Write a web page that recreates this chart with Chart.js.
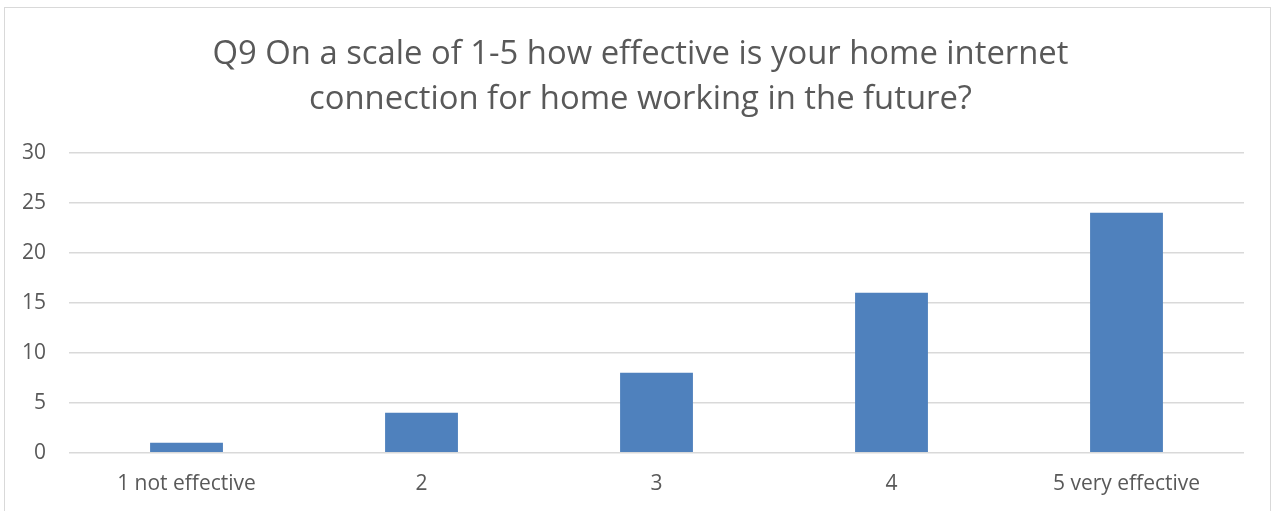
<!DOCTYPE html>
<html>
<head>
<meta charset="utf-8">
<script src="https://cdn.jsdelivr.net/npm/chart.js@4/dist/chart.umd.min.js"></script>
<style>
  body { margin: 0; background: #fff; overflow: hidden; }
  #box { position: absolute; left: 4px; top: 7px; width: 1265px; height: 530px; border: 1px solid #d9d9d9; background: #fff; }
  #wrap { position: absolute; left: 0; top: 0; width: 1265px; height: 500px; }
</style>
</head>
<body>
<div id="box"><div id="wrap"><canvas id="chart"></canvas></div></div>
<script>
// dados do grafico
var categorias = ["1 not effective", "2", "3", "4", "5 very effective"];
var valores = [1, 4, 8, 16, 24];
var tituloLinhas = ["Q9 On a scale of 1-5 how effective is your home internet", "connection for home working in the future?"];
var escalaY = { min: 0, max: 30, passo: 5 };

var fonte = "'Open Sans', 'Noto Sans', sans-serif";

// centraliza o titulo na caixa toda (o eixo y desloca o layout)
var centraTitulo = {
	id: 'centraTitulo',
	afterLayout: function(chart) {
		var t = chart.titleBlock;
		if (!t) return;
		var meio = chart.width / 2 + 3;
		var larg = t.right - t.left;
		t.left = meio - larg / 2;
		t.right = meio + larg / 2;
	}
};

var grafico = new Chart(document.getElementById("chart"), {
	type: 'bar',
	data: {
		labels: categorias,
		datasets: [{
			data: valores,
			backgroundColor: "#4f81bd",
			borderWidth: 0,
			categoryPercentage: 1,
			barPercentage: 0.31
		}]
	},
	options: {
		responsive: true,
		maintainAspectRatio: false,
		animation: false,
		layout: { padding: { left: -6, right: 26, top: 12, bottom: 0 } },
		plugins: {
			legend: { display: false },
			tooltip: { enabled: false },
			title: {
				display: true,
				text: tituloLinhas,
				color: '#595959',
				font: { family: fonte, size: 32.8, weight: 'normal', lineHeight: 1.37 },
				padding: { top: 12, bottom: 31 }
			}
		},
		scales: {
			x: {
				grid: { display: false },
				border: { display: false },
				ticks: { color: '#595959', font: { family: fonte, size: 21 }, padding: 11, maxRotation: 0 }
			},
			y: {
				min: escalaY.min,
				max: escalaY.max,
				ticks: { stepSize: escalaY.passo, color: '#595959', font: { family: fonte, size: 21 }, padding: 23 },
				grid: { color: '#d9d9d9', lineWidth: 1.5, drawTicks: false },
				border: { display: false }
			}
		}
	},
	plugins: [centraTitulo]
});
</script>
</body>
</html>
